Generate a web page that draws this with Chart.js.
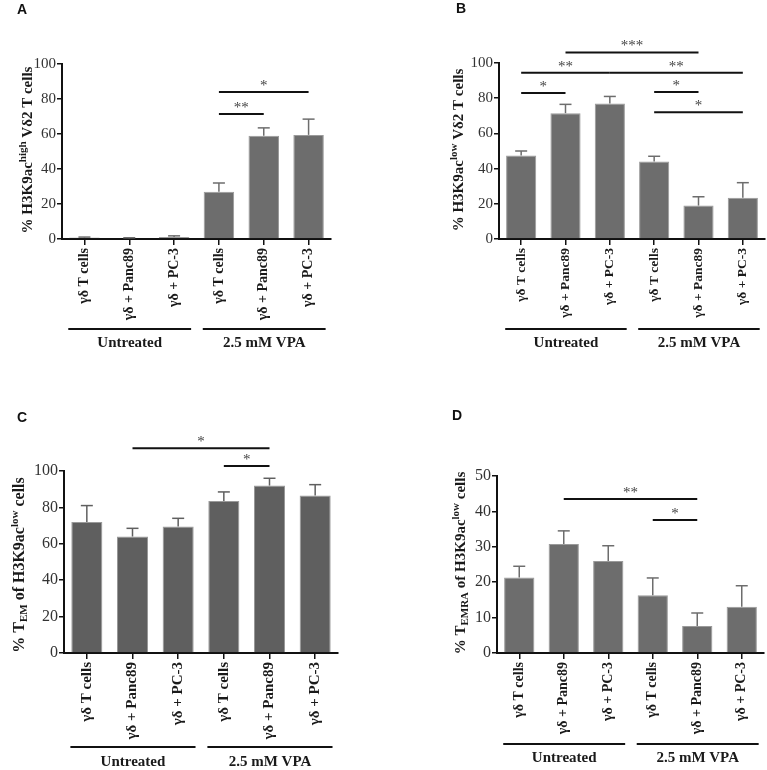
<!DOCTYPE html>
<html>
<head>
<meta charset="utf-8">
<script src="https://cdn.jsdelivr.net/npm/chart.js@4.4.1/dist/chart.umd.min.js"></script>
<style>
  body { margin: 0; background: #fff; }
  #wrap { position: relative; width: 767px; height: 770px; }
  .panel { position: absolute; }
  .letter { position: absolute; font: bold 14px Arial, "Liberation Sans", sans-serif; line-height: 14px; color: #111; }
</style>
</head>
<body>
<div id="wrap">
  <div class="panel" style="left:0;top:0;width:384px;height:385px"><canvas id="cA"></canvas></div>
  <div class="panel" style="left:384px;top:0;width:383px;height:385px"><canvas id="cB"></canvas></div>
  <div class="panel" style="left:0;top:385px;width:384px;height:385px"><canvas id="cC"></canvas></div>
  <div class="panel" style="left:384px;top:385px;width:383px;height:385px"><canvas id="cD"></canvas></div>
  <div class="letter" style="left:17px;top:2px">A</div>
  <div class="letter" style="left:456px;top:1px">B</div>
  <div class="letter" style="left:17px;top:410px">C</div>
  <div class="letter" style="left:452px;top:408px">D</div>
</div>
<script>
// categories and groups (same for all four panels)
var categories = ['γδ T cells', 'γδ + Panc89', 'γδ + PC-3', 'γδ T cells', 'γδ + Panc89', 'γδ + PC-3'];
var groupLabels = ['Untreated', '2.5 mM VPA'];
var groupRanges = [[0, 2], [3, 5]];

// y ticks
var ticksPct = [0, 20, 40, 60, 80, 100];
var ticksD = [0, 10, 20, 30, 40, 50];

// A: % H3K9ac high
var valuesA = [0.8, 0.5, 1.2, 27, 59, 59.5];
var errorsA = [0.3, 0.2, 0.6, 5, 4.5, 9];
var sigA = [[3, 4, '**', 71.5], [3, 5, '*', 84]];

// B: % H3K9ac low
var valuesB = [47.5, 71.5, 77, 44, 19, 23.5];
var errorsB = [2.5, 5, 4, 3, 5, 8.5];
var sigB = [[0, 1, '*', 83], [0, 2, '**', 94.5], [2, 5, '**', 94.5], [1, 4, '***', 106], [3, 4, '*', 83.5], [3, 5, '*', 72]];

// C: % TEM of H3K9ac low
var valuesC = [72, 64, 69.5, 83.5, 92, 86.5];
var errorsC = [9, 4.5, 4.5, 5, 4, 6];
var sigC = [[3, 4, '*', 102.7], [1, 4, '*', 112.5]];

// D: % TEMRA of H3K9ac low
var valuesD = [21.3, 30.8, 26, 16.3, 7.6, 13.1];
var errorsD = [3.2, 3.7, 4.3, 4.9, 3.7, 5.9];
var sigD = [[1, 4, '**', 43.5], [3, 4, '*', 37.6]];

var SERIF = '"Liberation Serif", "Times New Roman", serif';

function line(ctx, x1, y1, x2, y2) {
    ctx.beginPath();
    ctx.moveTo(x1, y1);
    ctx.lineTo(x2, y2);
    ctx.stroke();
}

// error bars, significance bars, group lines and the rich y title
var extras = {
    id: 'extras',
    afterDatasetsDraw: function(chart, args, o) {
        var ctx = chart.ctx, xs = chart.scales.x, ys = chart.scales.y;
        var meta = chart.getDatasetMeta(0), area = chart.chartArea;
        ctx.save();

        // upper error bars
        ctx.strokeStyle = o.barColor;
        ctx.lineWidth = 1.5;
        o.values.forEach(function(v, i) {
            var x = meta.data[i].x;
            var y0 = ys.getPixelForValue(v), y1 = ys.getPixelForValue(v + o.errors[i]);
            line(ctx, x, y0, x, y1);
            line(ctx, x - 6, y1, x + 6, y1);
        });

        // significance brackets
        ctx.strokeStyle = '#111';
        ctx.lineWidth = 2;
        ctx.fillStyle = '#444';
        ctx.font = '15px ' + SERIF;
        ctx.textAlign = 'center';
        ctx.textBaseline = 'alphabetic';
        o.sig.forEach(function(s) {
            var x1 = xs.getPixelForValue(s[0]), x2 = xs.getPixelForValue(s[1]);
            var y = ys.getPixelForValue(s[3]);
            line(ctx, x1, y, x2, y);
            ctx.fillText(s[2], (x1 + x2) / 2, y - 2);
        });

        // treatment groups under the axis
        var cw = xs.getPixelForValue(1) - xs.getPixelForValue(0);
        ctx.font = 'bold 15px ' + SERIF;
        ctx.fillStyle = '#1a1a1a';
        ctx.textBaseline = 'middle';
        groupRanges.forEach(function(g, k) {
            var a = xs.getPixelForValue(g[0]) - 0.36 * cw;
            var b = xs.getPixelForValue(g[1]) + 0.38 * cw;
            var gy = area.bottom + o.groupLineY;
            line(ctx, a, gy, b, gy);
            ctx.fillText(groupLabels[k], (a + b) / 2, area.bottom + o.groupTextY);
        });

        // y title with super/subscripts
        var big = 'bold ' + o.titleSize + 'px ' + SERIF;
        var small = 'bold ' + Math.round(o.titleSize * 0.7) + 'px ' + SERIF;
        ctx.translate(o.titleX, o.titleY);
        ctx.rotate(-Math.PI / 2);
        ctx.textAlign = 'left';
        ctx.textBaseline = 'middle';
        var total = 0;
        o.title.forEach(function(seg) {
            ctx.font = seg[1] ? small : big;
            seg.w = ctx.measureText(seg[0]).width;
            total += seg.w;
        });
        var cx = -total / 2;
        o.title.forEach(function(seg) {
            ctx.font = seg[1] ? small : big;
            var dy = seg[1] === 'sup' ? -5 : (seg[1] === 'sub' ? 4 : 0);
            ctx.fillText(seg[0], cx, dy);
            cx += seg.w;
        });
        ctx.restore();
    }
};

function makeChart(id, p) {
    var ctx = document.getElementById(id).getContext('2d');
    return new Chart(ctx, {
        type: 'bar',
        data: {
            labels: categories,
            datasets: [{
                data: p.values,
                backgroundColor: p.barColor,
                borderColor: '#9a9a9a',
                borderWidth: 1,
                barPercentage: 0.68,
                categoryPercentage: 1
            }]
        },
        plugins: [extras],
        options: {
            responsive: true,
            maintainAspectRatio: false,
            animation: false,
            layout: { padding: { left: 0, top: p.top, right: p.right, bottom: 0 } },
            plugins: {
                legend: { display: false },
                tooltip: { enabled: false },
                extras: {
                    values: p.values, errors: p.errors, sig: p.sig, barColor: p.barColor,
                    title: p.title, titleX: p.titleX, titleY: p.titleY, titleSize: p.titleSize,
                    groupLineY: p.groupLineY, groupTextY: p.groupTextY
                }
            },
            scales: {
                x: {
                    offset: true,
                    grid: { display: true, drawOnChartArea: false, offset: false, tickLength: 6, color: '#111', lineWidth: 1.5 },
                    border: { color: '#111', width: 2 },
                    ticks: {
                        minRotation: 90, maxRotation: 90, autoSkip: false, padding: 3,
                        color: '#1a1a1a', font: { family: SERIF, size: p.labelSize, weight: 'bold' }
                    },
                    afterFit: function(s) { s.height = 385 - p.bottom; }
                },
                y: {
                    min: 0,
                    max: p.ticks[p.ticks.length - 1],
                    afterBuildTicks: function(s) { s.ticks = p.ticks.map(function(v) { return { value: v }; }); },
                    grid: { drawOnChartArea: false, tickLength: 5, color: '#111', lineWidth: 1.5 },
                    border: { color: '#111', width: 2 },
                    ticks: { padding: 1, color: '#333', font: { family: SERIF, size: p.tickSize } },
                    afterFit: function(s) { s.width = p.left; }
                }
            }
        }
    });
}

makeChart('cA', {
    values: valuesA, errors: errorsA, sig: sigA, ticks: ticksPct, barColor: '#6d6d6d',
    left: 62, top: 64, right: 53, bottom: 239, tickSize: 15, labelSize: 14,
    title: [['% H3K9ac', ''], ['high', 'sup'], [' Vδ2 T cells', '']], titleX: 28, titleY: 150, titleSize: 15,
    groupLineY: 90, groupTextY: 104
});
makeChart('cB', {
    values: valuesB, errors: errorsB, sig: sigB, ticks: ticksPct, barColor: '#6d6d6d',
    left: 115, top: 63, right: 2, bottom: 239, tickSize: 15, labelSize: 13.5,
    title: [['% H3K9ac', ''], ['low', 'sup'], [' Vδ2 T cells', '']], titleX: 75, titleY: 150, titleSize: 15,
    groupLineY: 90, groupTextY: 104
});
makeChart('cC', {
    values: valuesC, errors: errorsC, sig: sigC, ticks: ticksPct, barColor: '#5f5f5f',
    left: 64, top: 86, right: 46, bottom: 268, tickSize: 16, labelSize: 15,
    title: [['% T', ''], ['EM', 'sub'], [' of H3K9ac', ''], ['low', 'sup'], [' cells', '']], titleX: 20, titleY: 180, titleSize: 16,
    groupLineY: 94, groupTextY: 109
});
makeChart('cD', {
    values: valuesD, errors: errorsD, sig: sigD, ticks: ticksD, barColor: '#6d6d6d',
    left: 113, top: 91, right: 3, bottom: 268, tickSize: 16, labelSize: 14,
    title: [['% T', ''], ['EMRA', 'sub'], [' of H3K9ac', ''], ['low', 'sup'], [' cells', '']], titleX: 77, titleY: 178, titleSize: 15,
    groupLineY: 91, groupTextY: 105
});
</script>
</body>
</html>
